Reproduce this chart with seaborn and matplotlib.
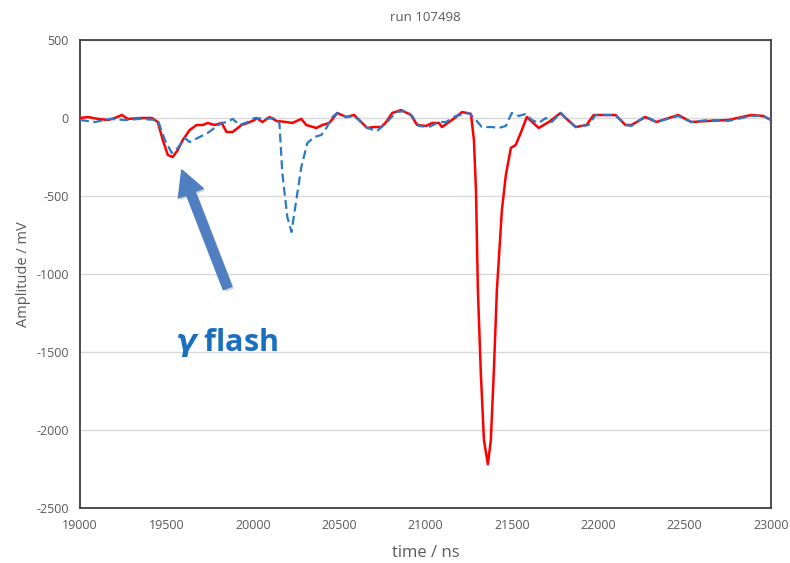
import matplotlib
matplotlib.use("Agg")
import matplotlib.pyplot as plt
import matplotlib.patheffects as pe
from matplotlib.ticker import MultipleLocator
import pandas as pd
import seaborn as sns

# Waveforms of two detector channels (time in ns, amplitude in mV)
red_time = [19000, 19046, 19104, 19162, 19202, 19242, 19277, 19358, 19416, 19450,
            19479, 19508, 19537, 19566, 19595, 19635, 19675, 19710, 19739, 19779,
            19820, 19848, 19883, 19935, 19970, 20010, 20022, 20056, 20097, 20137,
            20195, 20229, 20281, 20310, 20368, 20403, 20443, 20489, 20541, 20587,
            20628, 20662, 20703, 20743, 20772, 20807, 20859, 20916, 20951, 21003,
            21038, 21078, 21095, 21136, 21176, 21211, 21240, 21263, 21280, 21292,
            21303, 21320, 21338, 21361, 21378, 21395, 21413, 21424, 21442, 21465,
            21494, 21522, 21551, 21586, 21655, 21713, 21782, 21811, 21869, 21932,
            21973, 22100, 22157, 22192, 22273, 22336, 22463, 22538, 22636, 22752,
            22885, 22954, 23000]
red_mv = [0, 6, -6, -13, 0, 19, -6, 0, 0, -26,
          -141, -237, -250, -205, -141, -77, -45, -45, -32, -45,
          -32, -90, -90, -45, -32, -13, 0, -26, 6, -19,
          -26, -32, -6, -45, -64, -45, -32, 32, 6, 19,
          -26, -64, -58, -58, -26, 32, 51, 19, -45, -51,
          -32, -32, -58, -26, 6, 38, 32, 26, -141, -462,
          -1103, -1635, -2064, -2220, -2064, -1635, -1103, -910, -590, -365,
          -192, -173, -96, 6, -64, -26, 32, 0, -58, -45,
          19, 19, -45, -45, 6, -26, 19, -26, -19, -13,
          19, 13, -13]

blue_time = [19000, 19087, 19173, 19260, 19346, 19450, 19491, 19531, 19566, 19606,
             19635, 19681, 19739, 19779, 19820, 19854, 19883, 19924, 19970, 20010,
             20068, 20126, 20154, 20171, 20200, 20224, 20252, 20281, 20316, 20356,
             20397, 20426, 20460, 20489, 20541, 20587, 20662, 20720, 20772, 20830,
             20887, 20922, 20962, 21020, 21078, 21118, 21176, 21251, 21292, 21326,
             21384, 21424, 21465, 21499, 21540, 21580, 21615, 21655, 21696, 21730,
             21782, 21811, 21869, 21944, 21984, 22100, 22157, 22192, 22273, 22336,
             22463, 22538, 22636, 22752, 22885, 22954, 23000]
blue_mv = [-13, -26, -6, -13, -6, -13, -141, -224, -192, -128,
           -154, -128, -96, -64, -32, -26, -6, -45, -26, 0,
           -6, 0, -32, -353, -635, -731, -526, -314, -160, -122,
           -109, -64, 6, 32, 6, 13, -64, -83, -32, 38,
           45, 13, -51, -58, -26, -26, 13, 32, -13, -58,
           -58, -64, -51, 32, 13, 26, -13, -32, 0, -26,
           32, 0, -58, -45, 19, 19, -45, -51, 13, -26,
           13, -26, -13, -19, 13, 13, -13]

title_text = "run 107498"
x_label = "time / ns"
y_label = "Amplitude / mV"
note_text = r"$\boldsymbol{\gamma}$ flash"

RED = "#ff0000"
BLUE = "#2a7ac6"
GREY_TXT = "#595959"

sns.set_style("white")
plt.rcParams["font.family"] = ["Open Sans", "DejaVu Sans"]
plt.rcParams["axes.unicode_minus"] = False
plt.rcParams["mathtext.fontset"] = "dejavusans"

fig = plt.figure(figsize=(7.9, 5.63), dpi=100)
ax = fig.add_axes([0.1013, 0.0977, 0.8747, 0.8313])

red_df = pd.DataFrame({"time": red_time, "amp": red_mv})
blue_df = pd.DataFrame({"time": blue_time, "amp": blue_mv})

sns.lineplot(data=red_df, x="time", y="amp", ax=ax, color=RED, linewidth=1.8,
             sort=False, zorder=3)
sns.lineplot(data=blue_df, x="time", y="amp", ax=ax, color=BLUE, linewidth=1.6,
             linestyle=(0, (4, 2)), sort=False, zorder=4)

ax.set_xlim(19000, 23000)
ax.set_ylim(-2500, 500)
ax.xaxis.set_major_locator(MultipleLocator(500))
ax.xaxis.set_minor_locator(MultipleLocator(100))
ax.yaxis.set_major_locator(MultipleLocator(500))
ax.yaxis.set_minor_locator(MultipleLocator(100))

ax.grid(axis="y", which="major", color="#d9d9d9", linewidth=1.0, zorder=0)
ax.grid(axis="x", visible=False)
ax.set_axisbelow(True)

for side in ["left", "right", "top", "bottom"]:
    ax.spines[side].set_visible(True)
    ax.spines[side].set_color("#404040")
    ax.spines[side].set_linewidth(1.3)

ax.tick_params(axis="both", which="major", direction="in", length=5, width=1,
               color="#404040", labelsize=9, labelcolor=GREY_TXT, pad=8)
ax.tick_params(axis="both", which="minor", direction="in", length=3, width=0.8,
               color="#404040")
ax.tick_params(axis="x", which="both", top=False)
ax.tick_params(axis="y", which="both", right=False)

ax.set_xlabel(x_label, fontsize=12, color=GREY_TXT, labelpad=9)
ax.set_ylabel(y_label, fontsize=10.5, color=GREY_TXT, labelpad=4)
ax.set_title(title_text, fontsize=9.5, color=GREY_TXT, pad=14)

# Arrow pointing at the gamma flash
ax.annotate("", xy=(19589, -333), xytext=(19854, -1090),
            arrowprops=dict(arrowstyle="simple,head_length=1.5,head_width=1.6,tail_width=0.55",
                            mutation_scale=12, color="#4f7fc0", shrinkA=0, shrinkB=0,
                            path_effects=[pe.SimplePatchShadow(offset=(1.5, -1.5), alpha=0.2),
                                          pe.Normal()]),
            zorder=5)
ax.text(19848, -1436, note_text, fontsize=22, fontweight="bold", color="#1a6fc0",
        ha="center", va="center", zorder=5)

fig.savefig("out.png", dpi=100)
